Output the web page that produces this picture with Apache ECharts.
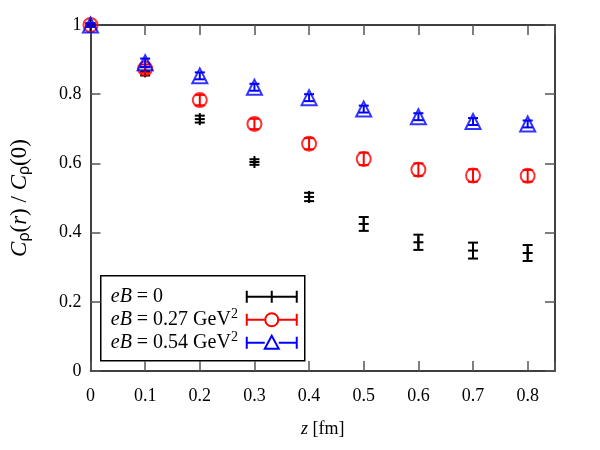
<!DOCTYPE html>
<html><head><meta charset="utf-8">
<script src="https://cdn.jsdelivr.net/npm/echarts@6/dist/echarts.min.js"></script>
<style>html,body{margin:0;padding:0;background:#fff}#c{width:600px;height:450px}</style>
</head><body><div id="c"></div>
<script>
const zValues = [0, 0.1, 0.2, 0.3, 0.4, 0.5, 0.6, 0.7, 0.8];
const eB0 = [1.0, 0.866, 0.728, 0.604, 0.503, 0.425, 0.372, 0.348, 0.341];
const eB0Err = [0.005, 0.012, 0.010, 0.008, 0.012, 0.020, 0.022, 0.023, 0.023];
const eB027 = [1.0, 0.874, 0.783, 0.714, 0.657, 0.613, 0.582, 0.565, 0.564];
const eB027Err = [0.005, 0.012, 0.015, 0.015, 0.016, 0.018, 0.018, 0.018, 0.017];
const eB054 = [1.0, 0.891, 0.853, 0.820, 0.790, 0.757, 0.735, 0.721, 0.714];
const eB054Err = [0.005, 0.012, 0.010, 0.010, 0.010, 0.010, 0.010, 0.010, 0.010];
const xTicks = [0, 0.1, 0.2, 0.3, 0.4, 0.5, 0.6, 0.7, 0.8];
const yTicks = [0, 0.2, 0.4, 0.6, 0.8, 1];

const chart = echarts.init(document.getElementById('c'));
const serif = '"Liberation Serif", "Times New Roman", serif';

function errSeries(vals, errs, color, withPlus, z) {
  return {
    type: 'custom', z: z, silent: true,
    data: zValues.map((x, i) => [x, vals[i], vals[i] - errs[i], vals[i] + errs[i]]),
    encode: {x: 0, y: [1, 2, 3]},
    renderItem: function (params, api) {
      const x = api.value(0);
      const c = api.coord([x, api.value(1)]);
      const lo = api.coord([x, api.value(2)]);
      const hi = api.coord([x, api.value(3)]);
      const cap = 5;
      const st = {stroke: color, lineWidth: 2};
      const ch = [
        {type: 'line', shape: {x1: c[0], y1: lo[1], x2: c[0], y2: hi[1]}, style: st},
        {type: 'line', shape: {x1: c[0] - cap, y1: lo[1], x2: c[0] + cap, y2: lo[1]}, style: st},
        {type: 'line', shape: {x1: c[0] - cap, y1: hi[1], x2: c[0] + cap, y2: hi[1]}, style: st}
      ];
      if (withPlus) {
        ch.push({type: 'line', shape: {x1: c[0] - 5, y1: c[1], x2: c[0] + 5, y2: c[1]}, style: st});
        ch.push({type: 'line', shape: {x1: c[0], y1: c[1] - 6, x2: c[0], y2: c[1] + 6}, style: st});
      }
      return {type: 'group', children: ch};
    }
  };
}

function markSeries(vals, color, symbol, size, z) {
  return {
    type: 'scatter', z: z, silent: true,
    data: zValues.map((x, i) => [x, vals[i]]),
    symbol: symbol, symbolSize: size,
    itemStyle: {color: 'transparent', borderColor: color, borderWidth: 2}
  };
}

const legRich = {
  i: {fontStyle: 'italic', fontFamily: serif, fontSize: 20, color: '#000'},
  p: {fontSize: 14, fontFamily: serif, color: '#000', verticalAlign: 'top', padding: [0, 0, 10, 0]}
};

chart.setOption({
  animation: false,
  backgroundColor: '#fff',
  grid: {left: 89, right: 45, top: 25, bottom: 79},
  xAxis: [{
    type: 'value', min: 0, max: 0.85, interval: 0.1,
    name: '{i|z} [fm]', nameLocation: 'middle', nameGap: 49,
    nameTextStyle: {fontFamily: serif, fontSize: 18, color: '#000', rich: {i: {fontFamily: serif, fontStyle: 'italic', fontSize: 18, color: '#000'}}},
    axisLine: {show: true, onZero: false, lineStyle: {color: '#000', width: 1.5}},
    axisTick: {inside: true, length: 10, lineStyle: {color: '#555', width: 1.5}},
    axisLabel: {fontFamily: serif, fontSize: 18, color: '#000', margin: 16,
      formatter: v => xTicks.some(t => Math.abs(t - v) < 1e-9) ? String(+v.toFixed(1)) : ''},
    splitLine: {show: false}
  }, {
    type: 'value', position: 'top', min: 0, max: 0.85, interval: 0.1,
    axisLine: {show: true, onZero: false, lineStyle: {color: '#000', width: 1.5}},
    axisTick: {inside: true, length: 10, lineStyle: {color: '#555', width: 1.5}},
    axisLabel: {show: false}, splitLine: {show: false}
  }],
  yAxis: [{
    type: 'value', min: 0, max: 1, interval: 0.2,
    name: '{c|C}{s|ρ}{t|(}{c|r}{t|) / }{c|C}{s|ρ}{t|(0)}', nameLocation: 'middle', nameGap: 58, nameRotate: 90,
    nameTextStyle: {color: '#000', rich: {
      c: {fontFamily: serif, fontStyle: 'italic', fontSize: 23, color: '#000'},
      s: {fontFamily: '"Liberation Sans", Arial, sans-serif', fontSize: 16, color: '#000', verticalAlign: 'bottom', padding: [10, 0, 0, 0]},
      t: {fontFamily: serif, fontSize: 23, color: '#000'}
    }},
    axisLine: {show: true, onZero: false, lineStyle: {color: '#000', width: 1.5}},
    axisTick: {inside: true, length: 10, lineStyle: {color: '#555', width: 1.5}},
    axisLabel: {fontFamily: serif, fontSize: 18, color: '#000', margin: 9,
      formatter: v => yTicks.some(t => Math.abs(t - v) < 1e-9) ? String(+v.toFixed(1)) : ''},
    splitLine: {show: false}
  }, {
    type: 'value', position: 'right', min: 0, max: 1, interval: 0.2,
    axisLine: {show: true, onZero: false, lineStyle: {color: '#000', width: 1.5}},
    axisTick: {inside: true, length: 10, lineStyle: {color: '#555', width: 1.5}},
    axisLabel: {show: false}, splitLine: {show: false}
  }],
  series: [
    errSeries(eB0, eB0Err, '#000', true, 2),
    errSeries(eB027, eB027Err, '#ff0000', false, 3),
    markSeries(eB027, '#ff0000', 'circle', 14, 4),
    errSeries(eB054, eB054Err, '#0000ff', false, 5),
    markSeries(eB054, '#0000ff', 'triangle', 15, 6)
  ],
  graphic: [{
    type: 'group', left: 100, top: 275, z: 100,
    children: [
      {type: 'rect', shape: {x: 0, y: 0, width: 204, height: 85}, style: {fill: '#fff', stroke: '#000', lineWidth: 1.5}},
      {type: 'text', x: 10, y: 21, style: {text: '{i|eB} = 0', verticalAlign: 'middle', font: '20px ' + serif, fill: '#000', rich: legRich}},
      {type: 'text', x: 10, y: 44, style: {text: '{i|eB} = 0.27 GeV{p|2}', verticalAlign: 'middle', font: '20px ' + serif, fill: '#000', rich: legRich}},
      {type: 'text', x: 10, y: 67, style: {text: '{i|eB} = 0.54 GeV{p|2}', verticalAlign: 'middle', font: '20px ' + serif, fill: '#000', rich: legRich}},
      // legend samples
      {type: 'line', shape: {x1: 146, y1: 21, x2: 196, y2: 21}, style: {stroke: '#000', lineWidth: 2}},
      {type: 'line', shape: {x1: 146, y1: 15, x2: 146, y2: 27}, style: {stroke: '#000', lineWidth: 2}},
      {type: 'line', shape: {x1: 196, y1: 15, x2: 196, y2: 27}, style: {stroke: '#000', lineWidth: 2}},
      {type: 'line', shape: {x1: 171, y1: 15, x2: 171, y2: 27}, style: {stroke: '#000', lineWidth: 2}},
      {type: 'line', shape: {x1: 146, y1: 44, x2: 164, y2: 44}, style: {stroke: '#ff0000', lineWidth: 2}},
      {type: 'line', shape: {x1: 178, y1: 44, x2: 196, y2: 44}, style: {stroke: '#ff0000', lineWidth: 2}},
      {type: 'line', shape: {x1: 146, y1: 38, x2: 146, y2: 50}, style: {stroke: '#ff0000', lineWidth: 2}},
      {type: 'line', shape: {x1: 196, y1: 38, x2: 196, y2: 50}, style: {stroke: '#ff0000', lineWidth: 2}},
      {type: 'circle', shape: {cx: 171, cy: 44, r: 6.5}, style: {fill: 'none', stroke: '#ff0000', lineWidth: 2}},
      {type: 'line', shape: {x1: 146, y1: 67, x2: 164, y2: 67}, style: {stroke: '#0000ff', lineWidth: 2}},
      {type: 'line', shape: {x1: 178, y1: 67, x2: 196, y2: 67}, style: {stroke: '#0000ff', lineWidth: 2}},
      {type: 'line', shape: {x1: 146, y1: 61, x2: 146, y2: 73}, style: {stroke: '#0000ff', lineWidth: 2}},
      {type: 'line', shape: {x1: 196, y1: 61, x2: 196, y2: 73}, style: {stroke: '#0000ff', lineWidth: 2}},
      {type: 'polygon', shape: {points: [[171, 60], [164, 73], [178, 73]]}, style: {fill: 'none', stroke: '#0000ff', lineWidth: 2}}
    ]
  }]
});
</script></body></html>
